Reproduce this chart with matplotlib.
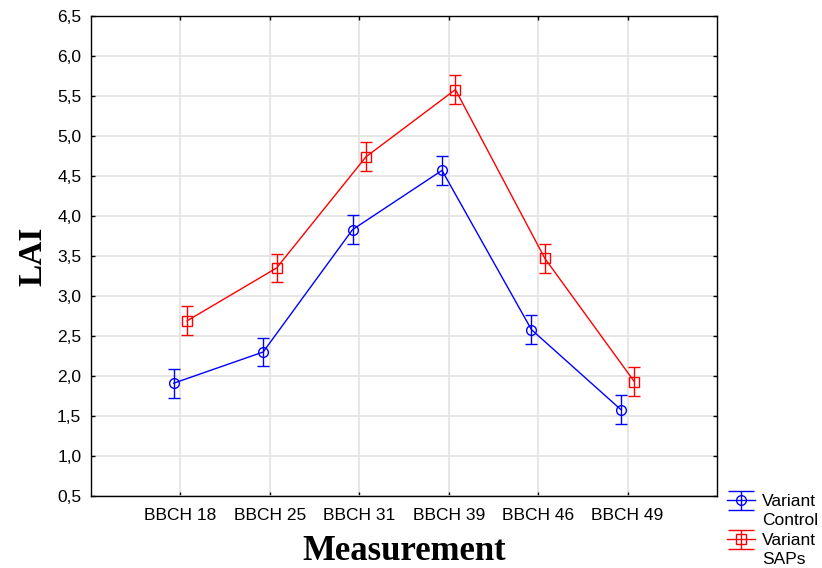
import matplotlib
matplotlib.use("Agg")
import matplotlib.pyplot as plt
from matplotlib.legend_handler import HandlerErrorbar
from matplotlib.lines import Line2D
import numpy as np

categories = ["BBCH 18", "BBCH 25", "BBCH 31", "BBCH 39", "BBCH 46", "BBCH 49"]
control = [1.91, 2.30, 3.83, 4.57, 2.58, 1.58]
control_err = [0.18, 0.18, 0.18, 0.18, 0.18, 0.18]
saps = [2.69, 3.35, 4.74, 5.58, 3.47, 1.93]
saps_err = [0.18, 0.18, 0.18, 0.18, 0.18, 0.18]
yticks = [0.5, 1.0, 1.5, 2.0, 2.5, 3.0, 3.5, 4.0, 4.5, 5.0, 5.5, 6.0, 6.5]

plt.rcParams['font.family'] = ['Liberation Sans', 'DejaVu Sans']


class WideCapHandler(HandlerErrorbar):
    shift = 7.5  # points upward, to align handle with first text line

    def create_artists(self, legend, orig_handle, xdescent, ydescent, width, height,
                       fontsize, trans):
        arts = super().create_artists(legend, orig_handle, xdescent,
                                      ydescent - 2 * self.shift, width,
                                      height, fontsize, trans)
        for a in arts:
            if isinstance(a, Line2D) and a.get_marker() == '_':
                a.set_markersize(width * 0.95)
        return arts


fig = plt.figure(figsize=(8.22, 5.68), dpi=100)
ax = fig.add_axes([91/822, 1-496/568, (717-91)/822, (496-16)/568])

x = np.arange(1, len(categories) + 1)
off = 0.075
h1 = ax.errorbar(x - off, control, yerr=control_err, color='#0000ff', lw=1.0,
                 marker='o', ms=7, mfc='none', mew=1.0, capsize=4, elinewidth=1.0,
                 label='Variant\nControl', zorder=3)
h2 = ax.errorbar(x + off, saps, yerr=saps_err, color='#ff0000', lw=1.0,
                 marker='s', ms=7, mfc='none', mew=1.0, capsize=4, elinewidth=1.0,
                 label='Variant\nSAPs', zorder=3)

ax.set_xlim(0, 7)
ax.set_ylim(0.5, 6.5)
ax.set_xticks(x)
ax.set_xticklabels(categories)
ax.set_yticks(yticks)
ax.set_yticklabels([f"{v:.1f}".replace('.', ',') for v in yticks])
ax.grid(True, color='#e2e2e2', lw=1.2)
ax.set_axisbelow(True)
ax.tick_params(direction='in', length=3, width=1, labelsize=12.5, top=True, right=True,
               colors='black', pad=7)
ax.tick_params(axis='x', pad=9)
for s in ax.spines.values():
    s.set_linewidth(1.0)
    s.set_color('black')

ax.set_ylabel('LAI', fontsize=24, fontweight='bold', family='Liberation Serif', labelpad=6)
ax.set_xlabel('Measurement', fontsize=25, fontweight='bold', family='Liberation Serif', labelpad=8)

leg = fig.legend(handles=[h1, h2], loc='lower left', bbox_to_anchor=(725/822, -0.001),
                 frameon=False, fontsize=12.5, handlelength=1.6, labelspacing=0.3,
                 handletextpad=0.45, borderaxespad=0.0, borderpad=0.1,
                 handler_map={type(h1): WideCapHandler(yerr_size=0.55)})
for t in leg.get_texts():
    t.set_linespacing(1.33)

fig.savefig('out.png', dpi=100)
